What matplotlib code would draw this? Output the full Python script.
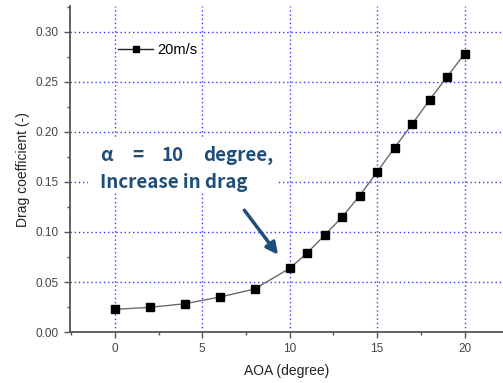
import matplotlib.pyplot as plt
from matplotlib.patches import Rectangle
from matplotlib.ticker import MultipleLocator

plt.rcParams['font.family'] = ['Liberation Sans', 'DejaVu Sans']

# drag coefficient vs angle of attack, 20 m/s
aoa = [0, 2, 4, 6, 8, 10, 11, 12, 13, 14, 15, 16, 17, 18, 19, 20]
cd = [0.0227, 0.0247, 0.0283, 0.035, 0.043, 0.0637, 0.079, 0.0967,
      0.115, 0.1363, 0.16, 0.1843, 0.2077, 0.232, 0.255, 0.278]
series_label = "20m/s"
note_words = ["α", "=", "10", "degree,"]
note_word_x = [-0.857, 1.01, 2.67, 5.03]
note_line2 = "Increase in drag"

fig = plt.figure(figsize=(5.03, 3.83), dpi=100)
ax = fig.add_axes([0.139, 0.133, 0.861, 0.851])

ax.plot(aoa, cd, color="#6a6a6a", lw=1.0, marker="s", ms=5.5,
        mfc="black", mec="black", label=series_label, zorder=3)

ax.set_xlim(-2.57, 22.2)
ax.set_ylim(0, 0.3257)
ax.xaxis.set_major_locator(MultipleLocator(5))
ax.xaxis.set_minor_locator(MultipleLocator(2.5))
ax.yaxis.set_major_locator(MultipleLocator(0.05))
ax.yaxis.set_minor_locator(MultipleLocator(0.025))
ax.yaxis.set_major_formatter(plt.FormatStrFormatter("%.2f"))

ax.grid(True, which="major", color="#3a3aff", ls=(0, (1, 2)), lw=1.0, zorder=1)
for s in ["top", "right"]:
    ax.spines[s].set_visible(False)
for s in ["left", "bottom"]:
    ax.spines[s].set_color("#555555")
    ax.spines[s].set_linewidth(1.3)
ax.tick_params(which="major", length=4.5, width=1, color="#555555",
               labelsize=8.5, labelcolor="#444444")
ax.tick_params(which="minor", length=2.5, width=1, color="#555555")

ax.set_xlabel("AOA (degree)", fontsize=10, color="#222222", labelpad=6)
ax.set_ylabel("Drag coefficient (-)", fontsize=10, color="#222222", labelpad=4)

leg = ax.legend(loc="upper left", bbox_to_anchor=(0.0815, 0.926), frameon=False,
                fontsize=10.5, handlelength=2.4, handletextpad=0.3,
                markerscale=0.7)
leg.get_lines()[0].set_color("#222222")

# white patch under the note, breaks the grid there
ax.add_patch(Rectangle((-1.54, 0.140), 10.85, 0.055, facecolor="white",
                       edgecolor="none", zorder=2))
note_font = dict(fontsize=13.5, fontweight="bold", color="#1f4e79",
                 family=["Noto Sans CJK KR", "DejaVu Sans"], va="baseline",
                 ha="left", zorder=4)
for word, wx in zip(note_words, note_word_x):
    ax.text(wx, 0.171, word, **note_font)
ax.text(-0.857, 0.1443, note_line2, **note_font)

ax.annotate("", xy=(9.43, 0.075), xytext=(7.31, 0.124),
            arrowprops=dict(arrowstyle="-|>,head_length=0.7,head_width=0.35",
                            color="#1f4e79", lw=2.5), zorder=4)

fig.savefig("out.png", dpi=100)
